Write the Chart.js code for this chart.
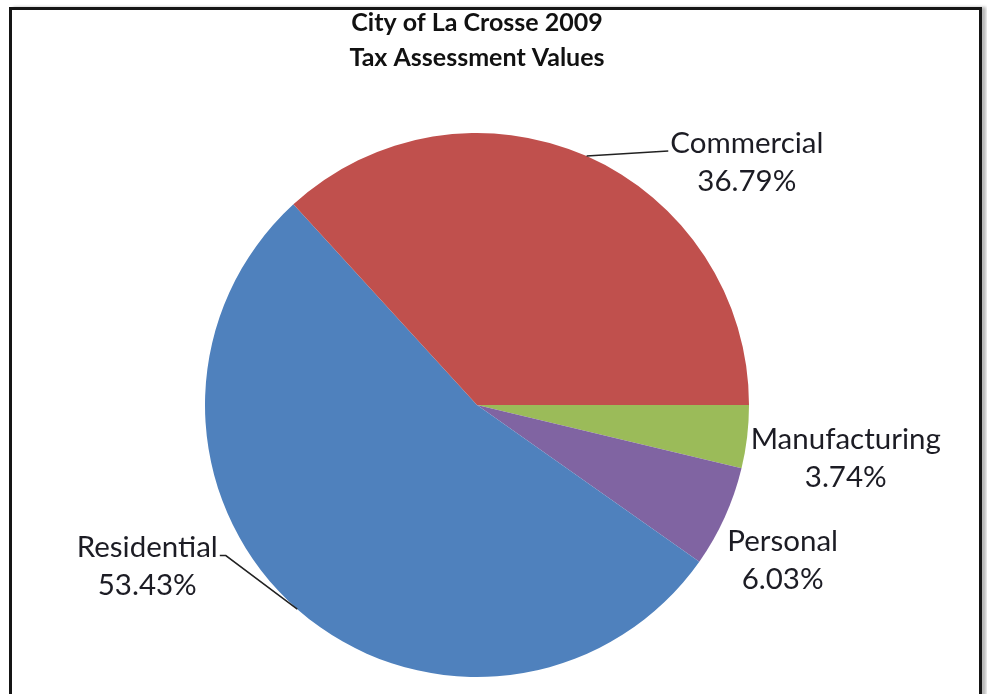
<!DOCTYPE html>
<html>
<head>
<meta charset="utf-8">
<script src="https://cdn.jsdelivr.net/npm/chart.js@4"></script>
<style>
    html, body { margin: 0; padding: 0; background: #fff; overflow: hidden; }
    #wrap { position: relative; width: 987px; height: 694px; }
    #frame {
        position: absolute; left: 9px; top: 7px; width: 967px; height: 700px;
        border: 3px solid #151515; box-shadow: 4px 0 3px #b8b8b8;
    }
    canvas { position: absolute; left: 0; top: 0; }
</style>
</head>
<body>
<div id="wrap">
    <div id="frame"></div>
    <canvas id="pieChart" width="987" height="694"></canvas>
</div>
<script>
// Chart data
const categories = ['Manufacturing', 'Personal', 'Residential', 'Commercial'];
const shares = [3.74, 6.03, 53.43, 36.79];
const sliceColors = ['#9BBB59', '#8064A2', '#4F81BD', '#C0504D'];

// Where each label sits: screen angle (deg) and distance in radii from the center
const labelPlacement = [
    { angle: 8.3, dist: 1.37, leader: false },
    { angle: 26.9, dist: 1.26, leader: false },
    { angle: 153.9, dist: 1.35, leader: true, side: 'right' },
    { angle: -42, dist: 1.335, leader: true, side: 'left' }
];

const labelFont = '29.5px Lato';

// Draws the outside labels with leader lines
const outsideLabels = {
    id: 'outsideLabels',
    afterDatasetsDraw(chart) {
        const ctx = chart.ctx;
        const meta = chart.getDatasetMeta(0);
        ctx.save();
        ctx.font = labelFont;
        ctx.fillStyle = '#1c1c24';
        ctx.textAlign = 'center';
        ctx.textBaseline = 'middle';
        meta.data.forEach(function(arc, i) {
            const p = arc.getProps(['x', 'y', 'startAngle', 'endAngle', 'outerRadius'], true);
            const place = labelPlacement[i];
            const a = place.angle * Math.PI / 180;
            const lx = p.x + Math.cos(a) * p.outerRadius * place.dist;
            const ly = p.y + Math.sin(a) * p.outerRadius * place.dist;
            const name = categories[i];
            const value = shares[i].toFixed(2) + '%';
            ctx.fillText(name, lx, ly - 19);
            ctx.fillText(value, lx, ly + 19);

            if (place.leader) {
                const mid = (p.startAngle + p.endAngle) / 2;
                const ex = p.x + Math.cos(mid) * p.outerRadius;
                const ey = p.y + Math.sin(mid) * p.outerRadius;
                const w = ctx.measureText(name).width;
                const tx = place.side === 'left' ? lx - w / 2 - 2 : lx + w / 2 + 2;
                const ty = ly - 11;
                ctx.beginPath();
                ctx.strokeStyle = '#222';
                ctx.lineWidth = 1.5;
                if (place.side === 'right') {
                    ctx.moveTo(tx, ty);
                    ctx.lineTo(tx + 6, ty);
                    ctx.lineTo(ex, ey);
                } else {
                    ctx.moveTo(ex, ey);
                    ctx.lineTo(tx, ty);
                }
                ctx.stroke();
            }
        });
        ctx.restore();
    }
};

document.addEventListener('DOMContentLoaded', function() {
    const ctx = document.getElementById('pieChart').getContext('2d');
    new Chart(ctx, {
        type: 'pie',
        data: {
            labels: categories,
            datasets: [{
                data: shares,
                backgroundColor: sliceColors,
                borderWidth: 0
            }]
        },
        options: {
            responsive: false,
            animation: false,
            rotation: 90,
            layout: {
                padding: { top: 0, left: 205, right: 238, bottom: 17 }
            },
            plugins: {
                legend: { display: false },
                tooltip: { enabled: false },
                title: {
                    display: true,
                    text: ['City of La Crosse 2009', 'Tax Assessment Values'],
                    color: '#111',
                    font: { family: 'Lato', size: 25, weight: 'bold', lineHeight: 1.4 },
                    padding: { top: 5, bottom: 58 }
                }
            }
        },
        plugins: [outsideLabels]
    });
});
</script>
</body>
</html>
